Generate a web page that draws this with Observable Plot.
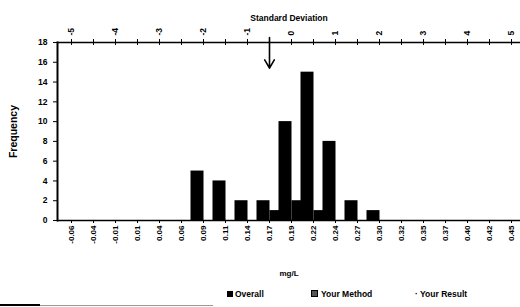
<!DOCTYPE html>
<html><head><meta charset="utf-8">
<script src="https://cdn.jsdelivr.net/npm/d3@7"></script>
<script src="https://cdn.jsdelivr.net/npm/@observablehq/plot@0.6"></script>
<style>
body{margin:0;background:#fff;font-family:"Liberation Sans",Arial,sans-serif;}
#wrap{position:relative;width:520px;height:307px;overflow:hidden;background:#fff;}
#legend{position:absolute;top:289px;left:0;width:520px;height:12px;font-size:8.5px;font-weight:bold;color:#000;}
.item{position:absolute;top:0;white-space:nowrap;line-height:10px;}
.sw{display:inline-block;width:6px;height:6px;background:#000;margin-right:2px;vertical-align:0px;box-sizing:border-box;}
.sw2{display:inline-block;width:7px;height:7px;border:1.5px solid #000;background:#555;margin-right:3px;vertical-align:0px;box-sizing:border-box;}
#bl1{position:absolute;left:0;top:304px;width:40px;height:2px;background:#000;}
#bl2{position:absolute;left:40px;top:305px;width:173px;height:1px;background:#999;}
</style></head><body>
<div id="wrap"><div id="chart"></div>
<div id="legend">
<span class="item" style="left:227px"><span class="sw"></span>Overall</span>
<span class="item" style="left:311px"><span class="sw2"></span>Your Method</span>
<span class="item" style="left:415px">· Your Result</span>
</div>
<div id="bl1"></div><div id="bl2"></div>
</div>
<script>
const categories = ["-0.06","-0.04","-0.01","0.01","0.04","0.06","0.09","0.11","0.14","0.17","0.19","0.22","0.24","0.27","0.30","0.32","0.35","0.37","0.40","0.42","0.45"];
const overallCounts = [0,0,0,0,0,0,5,4,2,2,10,15,8,2,1,0,0,0,0,0,0];
const yourMethodCounts = [0,0,0,0,0,0,0,0,0,1,2,1,0,0,0,0,0,0,0,0,0];
const sdLabels = [-5,-4,-3,-2,-1,0,1,2,3,4,5];
const yTicks = [0,2,4,6,8,10,12,14,16,18];
const yourResult = "0.17";

const overallData = categories.map((c,i)=>({cat:c, n:overallCounts[i]}));
const methodData = categories.map((c,i)=>({cat:c, n:yourMethodCounts[i]}));
const sdCats = sdLabels.map((s,i)=>categories[i*2]);
const sdMap = new Map(sdCats.map((c,i)=>[c, String(sdLabels[i])]));

const chart = Plot.plot({
  width: 520,
  height: 282,
  marginLeft: 57,
  marginRight: 0,
  marginTop: 42,
  marginBottom: 62,
  style: {fontFamily: "Liberation Sans, Arial, sans-serif", fontWeight: "bold", color: "#000", background: "#fff"},
  x: {type: "band", domain: categories, range: [57, 524], padding: 0},
  y: {domain: [0, 18]},
  marks: [
    Plot.rectY(overallData, {x: "cat", y: "n", fill: "#000", insetLeft: -1.5, insetRight: 10.5}),
    Plot.rectY(methodData, {x: "cat", y: "n", fill: "#000", insetLeft: 11.5, insetRight: 1}),
    Plot.ruleY([0], {stroke: "#000", strokeWidth: 1.5}),
    Plot.frame({anchor: "left", stroke: "#000", strokeWidth: 2}),
    Plot.frame({anchor: "top", stroke: "#000", strokeWidth: 1.5}),
    Plot.ruleX(categories, {x: d=>d, y1: 17.7, y2: 18.3, stroke: "#000", strokeWidth: 1}),
    Plot.arrow([yourResult], {x1: d=>d, x2: d=>d, y1: 18.5, y2: 15.4, stroke: "#000", strokeWidth: 1.6, headLength: 9, bend: 0}),
    Plot.axisY(yTicks, {anchor: "left", tickSize: 4, tickPadding: 6, fontSize: 8.5, fontWeight: "bold", label: "Frequency", labelAnchor: "center", labelArrow: "none", labelOffset: 48}),
    Plot.axisX(categories, {anchor: "bottom", tickSize: 3, tickPadding: 2, tickRotate: -90, fontSize: 8, fontWeight: "bold", label: "mg/L", labelAnchor: "center", labelArrow: "none", labelOffset: 55}),
    Plot.axisX(sdCats, {anchor: "top", tickSize: 0, tickPadding: 7, tickRotate: -90, fontSize: 8.5, fontWeight: "bold", tickFormat: d => sdMap.get(d), label: "Standard Deviation", labelAnchor: "center", labelArrow: "none", labelOffset: 28})
  ]
});
document.getElementById("chart").appendChild(chart);
chart.querySelectorAll("g[aria-label='y-axis label'] text").forEach(t=>{t.style.fontSize="10.5px";});
</script>
</body></html>
